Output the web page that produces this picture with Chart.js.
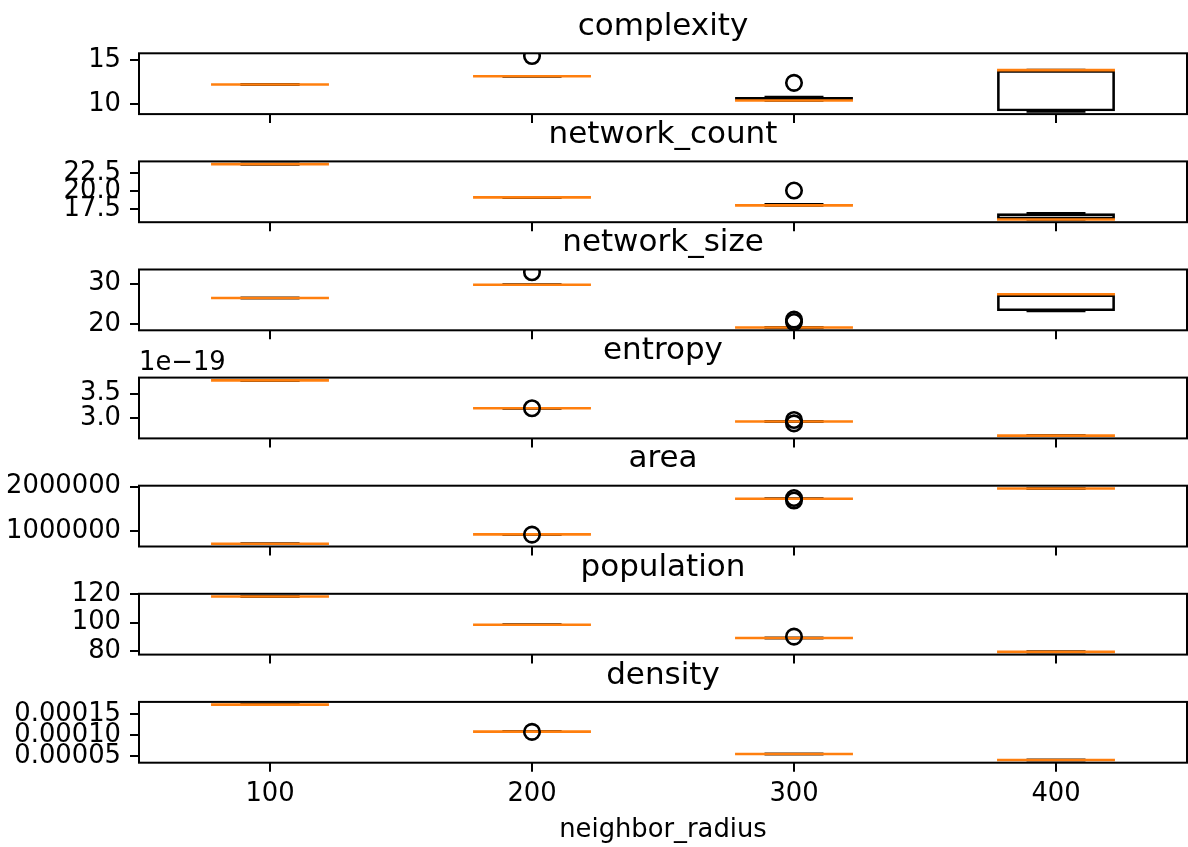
<!DOCTYPE html>
<html>
<head>
<meta charset="utf-8">
<script src="https://cdn.jsdelivr.net/npm/chart.js@4.4.0/dist/chart.umd.min.js"></script>
<style>
  html, body { margin: 0; padding: 0; background: #fff; }
  #wrap { position: relative; width: 1188px; height: 847px; overflow: hidden; }
  #wrap canvas { position: absolute; left: 0; }
</style>
</head>
<body>
<div id="wrap"></div>
<script>
// groups on the x axis
var radii = ["100", "200", "300", "400"];

// box stats per group: [low whisker, q1, median, q3, high whisker]
var complexityStats = [[12.23, 12.23, 12.23, 12.23, 12.23], [13.18, 13.18, 13.18, 13.18, 13.18],
  [10.4, 10.4, 10.4, 10.8, 10.8], [9.15, 9.15, 13.88, 13.88, 13.88]];
var complexityOut = [[], [15.5], [12.42], []];
var complexityTicks = [10, 15];
var complexityLabels = ["10", "15"];

var countStats = [[23.7, 23.7, 23.7, 23.7, 23.7], [19.1, 19.1, 19.1, 19.1, 19.1],
  [18.0, 18.0, 18.0, 18.15, 18.15], [16.05, 16.05, 16.05, 16.9, 16.9]];
var countOut = [[], [], [20.05], []];
var countTicks = [17.5, 20, 22.5];
var countLabels = ["17.5", "20.0", "22.5"];

var sizeStats = [[26.5, 26.5, 26.5, 26.5, 26.5], [29.75, 29.75, 29.75, 29.75, 29.75],
  [19.25, 19.25, 19.25, 19.25, 19.25], [23.3, 23.3, 27.4, 27.4, 27.4]];
var sizeOut = [[], [32.8], [20.6, 21.2], []];
var sizeTicks = [20, 30];
var sizeLabels = ["20", "30"];

var entropyStats = [[3.77e-19, 3.77e-19, 3.77e-19, 3.77e-19, 3.77e-19], [3.2e-19, 3.2e-19, 3.2e-19, 3.2e-19, 3.2e-19],
  [2.93e-19, 2.93e-19, 2.93e-19, 2.93e-19, 2.93e-19], [2.64e-19, 2.64e-19, 2.64e-19, 2.64e-19, 2.64e-19]];
var entropyOut = [[], [3.2e-19], [2.96e-19, 2.89e-19], []];
var entropyTicks = [3.0e-19, 3.5e-19];
var entropyLabels = ["3.0", "3.5"];

var areaStats = [[720000, 720000, 720000, 720000, 720000], [930000, 930000, 930000, 930000, 930000],
  [1730000, 1730000, 1730000, 1730000, 1730000], [1960000, 1960000, 1960000, 1960000, 1960000]];
var areaOut = [[], [925000], [1745000, 1690000], []];
var areaTicks = [1000000, 2000000];
var areaLabels = ["1000000", "2000000"];

var popStats = [[118.2, 118.2, 118.2, 118.2, 118.2], [98.5, 98.5, 98.5, 98.5, 98.5],
  [89.3, 89.3, 89.3, 89.3, 89.3], [79.6, 79.6, 79.6, 79.6, 79.6]];
var popOut = [[], [], [90.2], []];
var popTicks = [80, 100, 120];
var popLabels = ["80", "100", "120"];

var densityStats = [[0.000172, 0.000172, 0.000172, 0.000172, 0.000172], [0.000108, 0.000108, 0.000108, 0.000108, 0.000108],
  [0.000055, 0.000055, 0.000055, 0.000055, 0.000055], [0.000041, 0.000041, 0.000041, 0.000041, 0.000041]];
var densityOut = [[], [0.0001075], [], []];
var densityTicks = [0.00005, 0.0001, 0.00015];
var densityLabels = ["0.00005", "0.00010", "0.00015"];

var panels = [
  { title: "complexity", stats: complexityStats, out: complexityOut, ticks: complexityTicks, labels: complexityLabels },
  { title: "network_count", stats: countStats, out: countOut, ticks: countTicks, labels: countLabels },
  { title: "network_size", stats: sizeStats, out: sizeOut, ticks: sizeTicks, labels: sizeLabels },
  { title: "entropy", stats: entropyStats, out: entropyOut, ticks: entropyTicks, labels: entropyLabels, offset: "1e\u221219" },
  { title: "area", stats: areaStats, out: areaOut, ticks: areaTicks, labels: areaLabels },
  { title: "population", stats: popStats, out: popOut, ticks: popTicks, labels: popLabels },
  { title: "density", stats: densityStats, out: densityOut, ticks: densityTicks, labels: densityLabels }
];

var FONT = "DejaVu Sans";
var LW = 2.6;           // matplotlib 1pt at this dpi
var TOP0 = 53.3, STEP = 108.1, FRAME_H = 60.8;
var BOX_W = 0.45;       // box width in x units

// frame on all four sides, like matplotlib spines
var framePlugin = {
  id: "frame",
  afterDatasetsDraw: function (chart) {
    var a = chart.chartArea, ctx = chart.ctx;
    ctx.save();
    ctx.strokeStyle = "#000";
    ctx.lineWidth = 2;
    ctx.strokeRect(a.left, a.top, a.right - a.left, a.bottom - a.top);
    var txt = chart.options.plugins.frame && chart.options.plugins.frame.offset;
    if (txt) {
      ctx.fillStyle = "#000";
      ctx.font = "25.8px '" + FONT + "'";
      ctx.textAlign = "left";
      ctx.textBaseline = "alphabetic";
      ctx.fillText(txt, a.left, a.top - 8);
    }
    ctx.restore();
  }
};

function halfPx(chart, units) {
  var s = chart.scales.x;
  return s.getPixelForValue(1 + units) - s.getPixelForValue(1);
}

function yRange(p) {
  var vals = [];
  p.stats.forEach(function (s) { vals = vals.concat(s); });
  p.out.forEach(function (o) { vals = vals.concat(o); });
  var lo = Math.min.apply(null, vals), hi = Math.max.apply(null, vals);
  var m = (hi - lo) * 0.05;
  return [lo - m, hi + m];
}

function pts(p, k) {
  return p.stats.map(function (s, i) { return { x: i + 1, y: s[k] }; });
}

var wrap = document.getElementById("wrap");

panels.forEach(function (p, n) {
  var last = n === panels.length - 1;
  var frameTop = TOP0 + STEP * n;
  var frameBot = frameTop + FRAME_H;
  var cTop = Math.floor(frameTop - 44.8);
  var cBot = last ? 847 : Math.ceil(frameBot + 16);
  var xH = cBot - frameBot;

  var canvas = document.createElement("canvas");
  canvas.width = 1188;
  canvas.height = cBot - cTop;
  canvas.style.top = cTop + "px";
  wrap.appendChild(canvas);

  var outliers = [];
  p.out.forEach(function (o, i) { o.forEach(function (v) { outliers.push({ x: i + 1, y: v }); }); });
  var yr = yRange(p);

  new Chart(canvas, {
    type: "bar",
    data: {
      datasets: [
        { type: "bar", order: 4, data: p.stats.map(function (s, i) { return { x: i + 1, y: [s[0], s[1]] }; }),
          backgroundColor: "#000", borderWidth: 0, barThickness: LW, grouped: false, clip: 0 },
        { type: "bar", order: 4, data: p.stats.map(function (s, i) { return { x: i + 1, y: [s[3], s[4]] }; }),
          backgroundColor: "#000", borderWidth: 0, barThickness: LW, grouped: false, clip: 0 },
        { type: "scatter", order: 3, data: pts(p, 0), pointStyle: "line", showLine: false, clip: 0,
          pointRadius: function (c) { return halfPx(c.chart, BOX_W / 4); },
          pointBorderColor: "#000", pointBorderWidth: LW },
        { type: "scatter", order: 3, data: pts(p, 4), pointStyle: "line", showLine: false, clip: 0,
          pointRadius: function (c) { return halfPx(c.chart, BOX_W / 4); },
          pointBorderColor: "#000", pointBorderWidth: LW },
        { type: "bar", order: 2, data: p.stats.map(function (s, i) { return { x: i + 1, y: [s[1], s[3]] }; }),
          backgroundColor: "rgba(0,0,0,0)", borderColor: "#000", borderWidth: LW, borderSkipped: false,
          inflateAmount: 0, barPercentage: BOX_W, categoryPercentage: 1, grouped: false, clip: 0 },
        { type: "scatter", order: 1, data: pts(p, 2), pointStyle: "line", showLine: false, clip: 0,
          pointRadius: function (c) { return halfPx(c.chart, BOX_W / 2); },
          pointBorderColor: "#ff7f0e", pointBorderWidth: LW },
        { type: "scatter", order: 0, data: outliers, pointStyle: "circle", showLine: false, clip: 0,
          pointRadius: 7.75, pointBorderColor: "#000", pointBackgroundColor: "rgba(0,0,0,0)", pointBorderWidth: LW }
      ]
    },
    options: {
      responsive: false,
      animation: false,
      events: [],
      layout: { autoPadding: false, padding: { left: 0, right: 1, top: 0, bottom: 0 } },
      plugins: {
        legend: { display: false },
        tooltip: { enabled: false },
        title: {
          display: true, text: p.title, color: "#000", fullSize: false,
          font: { family: FONT, size: 31, weight: "normal", lineHeight: 1.2 },
          padding: { top: 0, bottom: frameTop - cTop - 37.2 }
        },
        frame: { offset: p.offset }
      },
      scales: {
        x: {
          type: "linear", min: 0.5, max: 4.5, offset: false,
          afterBuildTicks: function (s) { s.ticks = radii.map(function (r, i) { return { value: i + 1 }; }); },
          afterFit: function (s) { s.height = xH; s.paddingLeft = 0; s.paddingRight = 0; },
          ticks: {
            display: last, autoSkip: false, maxRotation: 0, padding: 7, color: "#000",
            font: { family: FONT, size: 25.8 },
            callback: function (v, i) { return radii[i]; }
          },
          grid: { display: true, offset: false, drawOnChartArea: false, drawTicks: true, tickLength: 9, lineWidth: 2, color: "#000" },
          border: { display: false },
          title: {
            display: last, text: "neighbor_radius", color: "#000",
            font: { family: FONT, size: 25.8, lineHeight: 1.2 },
            padding: { top: 0, bottom: 1.5 }
          }
        },
        y: {
          type: "linear", min: yr[0], max: yr[1],
          afterBuildTicks: function (s) { s.ticks = p.ticks.map(function (v) { return { value: v }; }); },
          afterFit: function (s) { s.width = 139; s.paddingTop = 0; s.paddingBottom = 0; },
          ticks: {
            autoSkip: false, padding: 9, color: "#000",
            font: { family: FONT, size: 25.8 },
            callback: function (v, i) { return p.labels[i]; }
          },
          grid: { display: true, drawOnChartArea: false, drawTicks: true, tickLength: 9, lineWidth: 2, color: "#000" },
          border: { display: false }
        }
      }
    },
    plugins: [framePlugin]
  });
});
</script>
</body>
</html>
